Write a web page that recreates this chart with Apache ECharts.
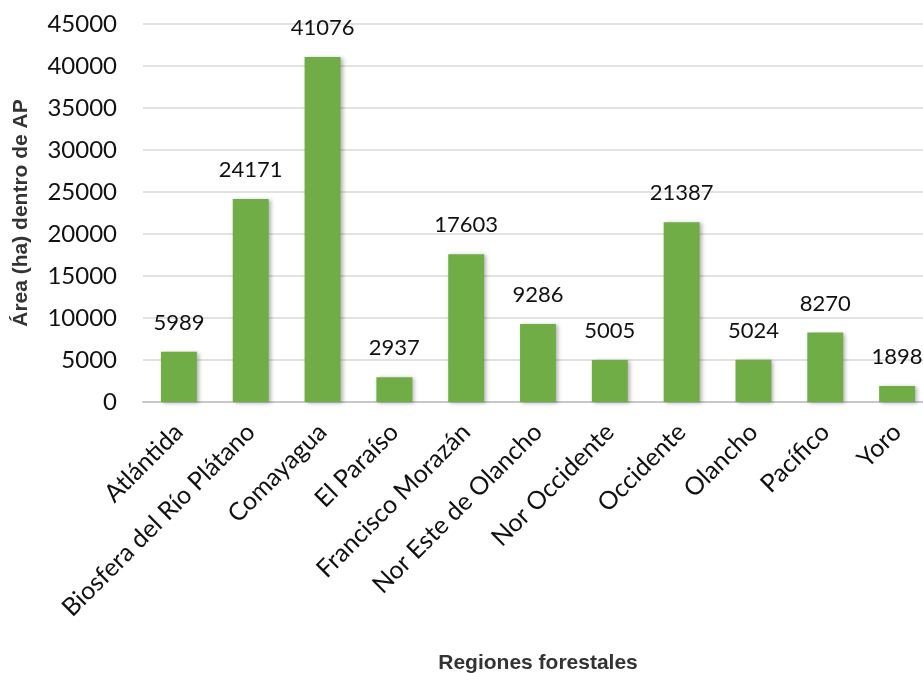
<!DOCTYPE html>
<html>
<head>
<meta charset="utf-8">
<script src="https://cdn.jsdelivr.net/npm/echarts@6/dist/echarts.min.js"></script>
<style>
  html, body { margin: 0; padding: 0; background: #fff; }
  #chart { width: 923px; height: 673px; }
</style>
</head>
<body>
<div id="chart"></div>
<script>
// Área protegida por región forestal
const regiones = [
  'Atlántida', 'Biosfera del Río Plátano', 'Comayagua', 'El Paraíso',
  'Francisco Morazán', 'Nor Este de Olancho', 'Nor Occidente', 'Occidente',
  'Olancho', 'Pacífico', 'Yoro'
];
const areaHa = [5989, 24171, 41076, 2937, 17603, 9286, 5005, 21387, 5024, 8270, 1898];
const yTicks = [0, 5000, 10000, 15000, 20000, 25000, 30000, 35000, 40000, 45000];

const chart = echarts.init(document.getElementById('chart'));
chart.setOption({
  animation: false,
  backgroundColor: '#ffffff',
  grid: {
    left: 143, right: -10, top: 24, bottom: 271,
    containLabel: false, outerBoundsMode: 'none'
  },
  xAxis: {
    type: 'category',
    data: regiones,
    name: 'Regiones forestales',
    nameLocation: 'middle',
    nameGap: 251,
    nameTextStyle: { fontFamily: 'Liberation Sans', fontWeight: 'bold', fontSize: 21, color: '#333' },
    axisLine: { lineStyle: { color: '#c8c8c8', width: 2 } },
    axisTick: { show: false },
    axisLabel: {
      rotate: 45, interval: 0, margin: 26,
      fontFamily: 'Lato', fontSize: 25, color: '#111'
    }
  },
  yAxis: {
    type: 'value',
    min: yTicks[0],
    max: yTicks[yTicks.length - 1],
    interval: 5000,
    name: 'Área (ha) dentro de AP',
    nameLocation: 'middle',
    nameGap: 111,
    nameTextStyle: { fontFamily: 'Liberation Sans', fontWeight: 'bold', fontSize: 21, color: '#333' },
    axisLine: { show: false },
    axisTick: { show: false },
    splitLine: { lineStyle: { color: '#d9d9d9', width: 1.5 } },
    axisLabel: {
      margin: 26, fontFamily: 'Lato', fontSize: 24, color: '#111',
      formatter: v => String(v)
    }
  },
  series: [{
    type: 'bar',
    data: areaHa,
    barCategoryGap: '50%',
    itemStyle: {
      color: '#70ad47',
      shadowBlur: 4,
      shadowOffsetX: 2,
      shadowOffsetY: 1,
      shadowColor: 'rgba(0,0,0,0.3)'
    },
    label: {
      show: true, position: 'top', distance: 18,
      fontFamily: 'Lato', fontSize: 22, color: '#111'
    }
  }]
});
</script>
</body>
</html>
